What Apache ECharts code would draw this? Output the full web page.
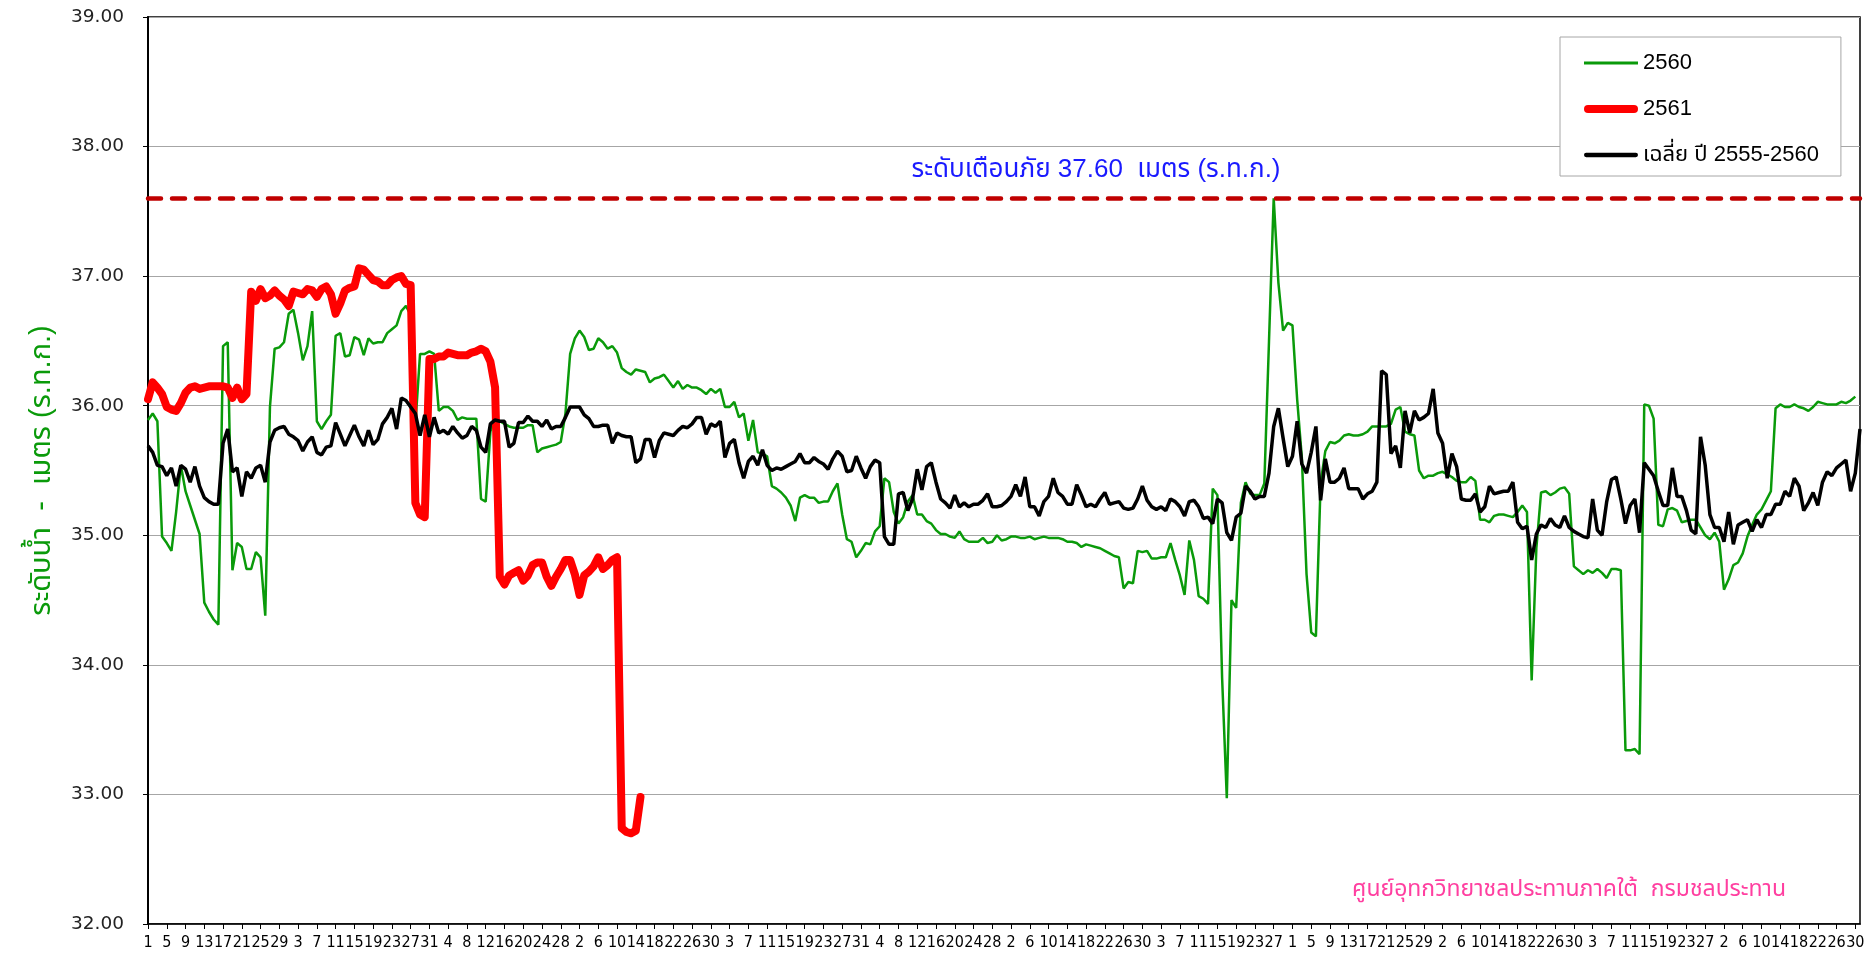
<!DOCTYPE html>
<html>
<head>
<meta charset="utf-8">
<script src="https://cdn.jsdelivr.net/npm/echarts@6/dist/echarts.min.js"></script>
<style>
  html, body { margin: 0; padding: 0; background: #fff; }
  #chart { width: 1874px; height: 961px; }
</style>
</head>
<body>
<div id="chart"></div>
<script>
// ==================== ข้อมูล ====================
// ปีน้ำ เม.ย. - มี.ค. (จำนวนวันแต่ละเดือน ตามแกนของกราฟต้นฉบับ)
const monthLengths = [30, 31, 30, 31, 31, 30, 31, 30, 31, 31, 29, 31]
const dayLabels = []
monthLengths.forEach(n => { for (let d = 1; d <= n; d++) dayLabels.push(String(d)) })

const seriesNames = ['2560', '2561', 'เฉลี่ย ปี 2555-2560']

// ระดับน้ำ ปี 2560
const level2560 = [
  35.89, 35.94, 35.88, 34.99, 34.94, 34.88, 35.18, 35.54, 35.34, 35.23,
  35.12, 35.01, 34.48, 34.41, 34.35, 34.31, 36.46, 36.49, 34.73, 34.94,
  34.91, 34.74, 34.74, 34.87, 34.83, 34.38, 35.99, 36.44, 36.45, 36.49,
  36.71, 36.74, 36.56, 36.35, 36.46, 36.73, 35.88, 35.82, 35.88, 35.93,
  36.54, 36.56, 36.38, 36.39, 36.53, 36.51, 36.39, 36.52, 36.48, 36.49,
  36.49, 36.56, 36.59, 36.62, 36.73, 36.77, 36.70, 35.85, 36.40, 36.40,
  36.42, 36.40, 35.96, 35.99, 35.99, 35.96, 35.89, 35.91, 35.90, 35.90,
  35.90, 35.28, 35.26, 35.80, 35.90, 35.88, 35.86, 35.84, 35.83, 35.83,
  35.83, 35.85, 35.85, 35.64, 35.67, 35.68, 35.69, 35.70, 35.72, 35.94,
  36.40, 36.52, 36.58, 36.53, 36.43, 36.44, 36.52, 36.49, 36.44, 36.46,
  36.41, 36.29, 36.26, 36.24, 36.28, 36.27, 36.26, 36.18, 36.21, 36.22,
  36.24, 36.19, 36.14, 36.19, 36.13, 36.16, 36.14, 36.14, 36.12, 36.09,
  36.13, 36.10, 36.13, 35.99, 35.99, 36.03, 35.91, 35.94, 35.73, 35.89,
  35.64, 35.63, 35.61, 35.38, 35.36, 35.33, 35.29, 35.23, 35.11, 35.29,
  35.31, 35.29, 35.29, 35.25, 35.26, 35.26, 35.34, 35.40, 35.16, 34.97,
  34.95, 34.83, 34.88, 34.94, 34.93, 35.03, 35.07, 35.44, 35.41, 35.18,
  35.09, 35.14, 35.26, 35.31, 35.16, 35.16, 35.11, 35.09, 35.04, 35.01,
  35.01, 34.99, 34.98, 35.03, 34.97, 34.95, 34.95, 34.95, 34.98, 34.94,
  34.95, 35.00, 34.96, 34.97, 34.99, 34.99, 34.98, 34.98, 34.99, 34.97,
  34.98, 34.99, 34.98, 34.98, 34.98, 34.97, 34.95, 34.95, 34.94, 34.91,
  34.93, 34.92, 34.91, 34.90, 34.88, 34.86, 34.84, 34.83, 34.59, 34.64,
  34.63, 34.88, 34.87, 34.88, 34.82, 34.82, 34.83, 34.83, 34.94, 34.81,
  34.69, 34.54, 34.96, 34.81, 34.53, 34.51, 34.47, 35.36, 35.31, 33.90,
  32.97, 34.50, 34.44, 35.25, 35.41, 35.32, 35.31, 35.31, 35.40, 36.50,
  37.60, 36.95, 36.58, 36.64, 36.62, 36.05, 35.60, 34.70, 34.25, 34.22,
  35.40, 35.65, 35.72, 35.71, 35.73, 35.77, 35.78, 35.77, 35.77, 35.78,
  35.80, 35.84, 35.84, 35.84, 35.84, 35.86, 35.97, 35.99, 35.80, 35.78,
  35.77, 35.50, 35.44, 35.46, 35.46, 35.48, 35.49, 35.47, 35.45, 35.42,
  35.41, 35.41, 35.45, 35.42, 35.12, 35.12, 35.10, 35.15, 35.16, 35.16,
  35.15, 35.14, 35.18, 35.23, 35.18, 33.88, 34.90, 35.33, 35.34, 35.31,
  35.33, 35.36, 35.37, 35.32, 34.76, 34.73, 34.70, 34.73, 34.71, 34.74,
  34.71, 34.67, 34.74, 34.74, 34.73, 33.34, 33.34, 33.35, 33.31, 36.01,
  36.00, 35.90, 35.08, 35.07, 35.20, 35.21, 35.19, 35.10, 35.11, 35.12,
  35.12, 35.06, 35.00, 34.97, 35.02, 34.95, 34.58, 34.66, 34.77, 34.79,
  34.86, 34.99, 35.08, 35.16, 35.20, 35.27, 35.34, 35.98, 36.01, 35.99,
  35.99, 36.01, 35.99, 35.98, 35.96, 35.99, 36.03, 36.02, 36.01, 36.01,
  36.01, 36.03, 36.02, 36.04, 36.07, null
]

// ระดับน้ำ ปี 2561 (ถึงปัจจุบัน)
const level2561 = [
  36.05, 36.18, 36.14, 36.09, 35.99, 35.97, 35.96, 36.02, 36.10, 36.14,
  36.15, 36.13, 36.14, 36.15, 36.15, 36.15, 36.15, 36.14, 36.06, 36.14,
  36.05, 36.09, 36.88, 36.81, 36.90, 36.83, 36.85, 36.89, 36.85, 36.82,
  36.77, 36.88, 36.87, 36.86, 36.90, 36.89, 36.84, 36.90, 36.92, 36.86,
  36.71, 36.79, 36.89, 36.91, 36.92, 37.06, 37.05, 37.01, 36.97, 36.96,
  36.93, 36.93, 36.97, 36.99, 37.00, 36.94, 36.93, 35.25, 35.16, 35.14,
  36.36, 36.36, 36.38, 36.38, 36.41, 36.40, 36.39, 36.39, 36.39, 36.41,
  36.42, 36.44, 36.42, 36.34, 36.14, 34.68, 34.62, 34.69, 34.71, 34.73,
  34.65, 34.69, 34.77, 34.79, 34.79, 34.68, 34.61, 34.68, 34.74, 34.81,
  34.81, 34.70, 34.54, 34.69, 34.72, 34.76, 34.83, 34.74, 34.77, 34.81,
  34.83, 32.74, 32.71, 32.70, 32.72, 32.98
]

// ค่าเฉลี่ย ปี 2555-2560
const levelAvg = [
  35.69, 35.64, 35.54, 35.53, 35.46, 35.52, 35.38, 35.54, 35.51, 35.41,
  35.53, 35.38, 35.29, 35.26, 35.24, 35.24, 35.71, 35.82, 35.49, 35.52,
  35.30, 35.49, 35.44, 35.52, 35.54, 35.41, 35.72, 35.81, 35.83, 35.84,
  35.78, 35.76, 35.73, 35.65, 35.72, 35.76, 35.64, 35.62, 35.68, 35.69,
  35.87, 35.78, 35.69, 35.77, 35.85, 35.76, 35.69, 35.81, 35.70, 35.74,
  35.86, 35.91, 35.98, 35.82, 36.06, 36.04, 35.99, 35.94, 35.77, 35.93,
  35.76, 35.91, 35.79, 35.81, 35.78, 35.84, 35.79, 35.75, 35.77, 35.84,
  35.81, 35.68, 35.64, 35.86, 35.89, 35.88, 35.88, 35.68, 35.71, 35.87,
  35.87, 35.92, 35.88, 35.88, 35.84, 35.89, 35.82, 35.84, 35.84, 35.91,
  35.99, 35.99, 35.99, 35.93, 35.90, 35.84, 35.84, 35.85, 35.85, 35.71,
  35.79, 35.77, 35.76, 35.76, 35.56, 35.59, 35.74, 35.74, 35.60, 35.73,
  35.79, 35.78, 35.77, 35.81, 35.84, 35.83, 35.86, 35.91, 35.91, 35.78,
  35.86, 35.84, 35.88, 35.60, 35.71, 35.74, 35.56, 35.44, 35.57, 35.61,
  35.54, 35.66, 35.54, 35.50, 35.52, 35.51, 35.53, 35.55, 35.57, 35.63,
  35.56, 35.56, 35.60, 35.57, 35.55, 35.51, 35.59, 35.65, 35.61, 35.49,
  35.50, 35.61, 35.52, 35.44, 35.53, 35.58, 35.56, 34.99, 34.93, 34.93,
  35.32, 35.33, 35.19, 35.28, 35.51, 35.35, 35.53, 35.56, 35.41, 35.28,
  35.25, 35.21, 35.31, 35.22, 35.25, 35.22, 35.24, 35.24, 35.27, 35.32,
  35.22, 35.22, 35.23, 35.26, 35.30, 35.39, 35.30, 35.45, 35.22, 35.22,
  35.15, 35.26, 35.30, 35.44, 35.33, 35.30, 35.24, 35.24, 35.39, 35.31,
  35.22, 35.24, 35.22, 35.28, 35.33, 35.24, 35.25, 35.26, 35.21, 35.20,
  35.21, 35.28, 35.38, 35.27, 35.22, 35.20, 35.22, 35.19, 35.28, 35.26,
  35.22, 35.15, 35.26, 35.27, 35.22, 35.13, 35.14, 35.09, 35.28, 35.25,
  35.02, 34.96, 35.14, 35.17, 35.38, 35.34, 35.28, 35.30, 35.30, 35.48,
  35.84, 35.98, 35.75, 35.53, 35.61, 35.88, 35.55, 35.48, 35.64, 35.84,
  35.27, 35.59, 35.41, 35.41, 35.44, 35.52, 35.36, 35.36, 35.36, 35.28,
  35.32, 35.34, 35.41, 36.27, 36.24, 35.63, 35.69, 35.52, 35.96, 35.79,
  35.96, 35.89, 35.91, 35.94, 36.13, 35.79, 35.71, 35.44, 35.63, 35.53,
  35.28, 35.27, 35.27, 35.32, 35.18, 35.22, 35.38, 35.32, 35.33, 35.34,
  35.34, 35.41, 35.10, 35.05, 35.07, 34.81, 35.01, 35.08, 35.06, 35.13,
  35.08, 35.06, 35.15, 35.06, 35.03, 35.01, 34.99, 34.98, 35.28, 35.04,
  35.00, 35.26, 35.43, 35.45, 35.28, 35.09, 35.23, 35.28, 35.02, 35.56,
  35.51, 35.46, 35.34, 35.23, 35.23, 35.52, 35.30, 35.30, 35.19, 35.04,
  35.01, 35.76, 35.54, 35.16, 35.06, 35.06, 34.95, 35.18, 34.93, 35.08,
  35.10, 35.12, 35.03, 35.12, 35.06, 35.16, 35.16, 35.24, 35.24, 35.34,
  35.30, 35.44, 35.38, 35.19, 35.25, 35.33, 35.23, 35.41, 35.49, 35.46,
  35.52, 35.55, 35.58, 35.34, 35.48, 35.82
]

const warningLevel = 37.6
const yMin = 32
const yMax = 39

// ==================== ฟอนต์ / สี ====================
const thaiFont = "Tahoma, 'Liberation Sans', 'Noto Sans Thai', sans-serif"
const colors = { y2560: '#0A9A0A', y2561: '#FF0000', avg: '#000000', warn: '#C00000' }

// ไอคอน legend (เส้นตรงตามความหนาของแต่ละเส้น)
const legendIcons = [
  'path://M0,0H54V3H0Z',
  'path://M4,0H50A4,4,0,0,1,50,8H4A4,4,0,0,1,4,0Z',
  'path://M1,0H53A2,2,0,0,1,53,4.5H1A2,2,0,0,1,1,0Z'
]

const chart = echarts.init(document.getElementById('chart'))

chart.setOption({
  animation: false,
  backgroundColor: '#fff',
  grid: {
    left: 148, right: 14, top: 17, bottom: 37,
    show: true, borderColor: '#000', borderWidth: 1.5, backgroundColor: 'transparent'
  },
  legend: {
    orient: 'vertical',
    left: 1560,
    top: 37,
    backgroundColor: '#fff',
    borderColor: '#A6A6A6',
    borderWidth: 1,
    borderRadius: 0,
    padding: [15, 22, 10, 24],
    itemGap: 24,
    itemWidth: 54,
    itemHeight: 14,
    textStyle: { fontSize: 22, color: '#000', fontFamily: thaiFont },
    data: seriesNames.map((name, idx) => ({ name, icon: legendIcons[idx] }))
  },
  xAxis: {
    type: 'category',
    data: dayLabels,
    boundaryGap: false,
    axisLine: { lineStyle: { color: '#000', width: 1.5 } },
    axisTick: { interval: 3, length: 5, lineStyle: { color: '#000' } },
    axisLabel: {
      interval: 3,
      margin: 11,
      fontSize: 16,
      color: '#000',
      fontFamily: "'Liberation Sans Narrow', 'DejaVu Sans Condensed', 'Liberation Sans', sans-serif"
    },
    splitLine: { show: false }
  },
  yAxis: {
    type: 'value',
    min: yMin,
    max: yMax,
    interval: 1,
    name: 'ระดับน้ำ  -  เมตร (ร.ท.ก.)',
    nameLocation: 'middle',
    nameRotate: 90,
    nameGap: 92,
    nameTextStyle: { color: '#0A9A0A', fontSize: 29, fontFamily: thaiFont },
    axisLine: { show: true, lineStyle: { color: '#000', width: 2 } },
    axisTick: { show: true, length: 5, lineStyle: { color: '#000' } },
    axisLabel: {
      margin: 24,
      fontSize: 18.5,
      color: '#222',
      fontFamily: "'DejaVu Sans', Verdana, sans-serif",
      formatter: v => v.toFixed(2)
    },
    splitLine: { lineStyle: { color: '#A6A6A6', width: 1 } }
  },
  series: [
    {
      name: seriesNames[0],
      type: 'line',
      data: level2560,
      symbol: 'none',
      lineStyle: { color: colors.y2560, width: 2.5 },
      itemStyle: { color: colors.y2560 },
      markLine: {
        silent: true,
        symbol: ['none', 'none'],
        label: { show: false },
        lineStyle: { color: colors.warn, width: 4.5, type: [13, 11], cap: 'round' },
        data: [{ yAxis: warningLevel }]
      }
    },
    {
      name: seriesNames[1],
      type: 'line',
      data: level2561,
      symbol: 'none',
      lineStyle: { color: colors.y2561, width: 8, cap: 'round', join: 'round' },
      itemStyle: { color: colors.y2561 }
    },
    {
      name: seriesNames[2],
      type: 'line',
      data: levelAvg,
      symbol: 'none',
      lineStyle: { color: colors.avg, width: 3.5 },
      itemStyle: { color: colors.avg }
    }
  ],
  graphic: [
    {
      type: 'text',
      x: 1096,
      y: 170,
      style: {
        text: 'ระดับเตือนภัย 37.60  เมตร (ร.ท.ก.)',
        fill: '#1A1AFF',
        fontSize: 26,
        fontFamily: thaiFont,
        align: 'center',
        verticalAlign: 'middle'
      }
    },
    {
      type: 'text',
      x: 1569,
      y: 890,
      style: {
        text: 'ศูนย์อุทกวิทยาชลประทานภาคใต้  กรมชลประทาน',
        fill: '#FF3FA0',
        fontSize: 23,
        fontFamily: thaiFont,
        align: 'center',
        verticalAlign: 'middle'
      }
    }
  ]
})

window.addEventListener('resize', () => chart.resize())
</script>
</body>
</html>
